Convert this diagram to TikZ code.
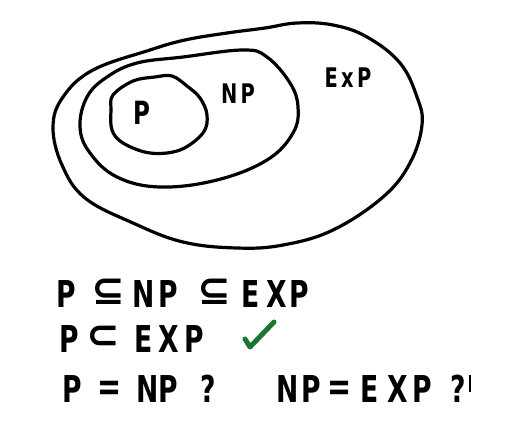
\documentclass[tikz,border=0pt]{standalone}
\usepackage{fontspec}
\setmainfont{DejaVu Sans}
\definecolor{checkgreen}{RGB}{28,118,48}
\newcommand{\sq}[1]{\scalebox{0.72}[1]{#1}}
\begin{document}
\begin{tikzpicture}[x=1pt,y=-1pt,
  blob/.style={line width=3.2pt, line join=round},
  big/.style={font=\fontsize{37}{37}\selectfont\bfseries, inner sep=0pt},
  sym/.style={font=\fontsize{40}{40}\selectfont\bfseries, inner sep=0pt},
  lbl/.style={font=\fontsize{27}{27}\selectfont\bfseries, inner sep=0pt}]
\useasboundingbox (0,0) rectangle (526,425);
% EXP blob
\draw[blob] plot[smooth cycle, tension=0.65] coordinates {
 (53,127) (63,97) (93,70) (150,50) (185,40) (227,33) (265,28) (297,23)
 (333,25) (367,37) (400,63) (417,97) (422,125) (410,163) (383,197)
 (333,230) (283,245) (237,248) (183,242) (133,223) (85,198) (62,165)};
% NP blob
\draw[blob] plot[smooth cycle, tension=0.65] coordinates {
 (80,127) (87,97) (107,77) (137,63) (183,57) (243,50) (267,57) (290,83)
 (298,107) (293,133) (267,160) (217,180) (160,187) (117,177) (90,153)};
% P blob
\draw[blob] plot[smooth cycle, tension=0.6] coordinates {
 (113,95) (133,81) (155,77) (172,76) (187,86) (200,98) (207,115)
 (203,133) (180,150) (150,153) (123,143) (112,130) (111,110)};
% blob labels
\node[lbl, font=\fontsize{32}{32}\selectfont\bfseries] (lp) at (142,113) {\sq{P}};
\node[lbl] (lnp) at (238,94) {\sq{N\,P}};
\node[lbl] (lexp) at (348,78) {\sq{E\,x\,P}};
% line 1
\node[big] (a1) at (66,294) {\sq{P}};
\node[sym] (a2) at (108,292) {⊆};
\node[big] (a3) at (144,294) {\sq{N}};
\node[big] (a4) at (168,294) {\sq{P}};
\node[sym] (a5) at (214,292) {⊆};
\node[big] (a6) at (251,294) {\sq{E}};
\node[big] (a7) at (277,294) {\sq{X}};
\node[big] (a8) at (299,294) {\sq{P}};
% line 2
\node[big] (b1) at (69,339) {\sq{P}};
\node[sym] (b2) at (103,337) {⊂};
\node[big] (b3) at (144,339) {\sq{E}};
\node[big] (b4) at (169,339) {\sq{X}};
\node[big] (b5) at (194,339) {\sq{P}};
\coordinate (c1) at (245,339);
\coordinate (c2) at (250,347);
\coordinate (c3) at (274,322);
\draw[checkgreen, line width=5pt, line cap=round, line join=round] (c1) -- (c2) -- (c3);
% line 3
\node[big] (d1) at (72,389) {\sq{P}};
\node[sym] (d2) at (110,391) {\sq{=}};
\node[big] (d3) at (148,389) {\sq{N}};
\node[big] (d4) at (168,389) {\sq{P}};
\node[big] (d5) at (208,389) {\sq{?}};
\node[big] (e1) at (288,389) {\sq{N}};
\node[big] (e2) at (311,389) {\sq{P}};
\node[sym] (e3) at (340,391) {\sq{=}};
\node[big] (e4) at (370,389) {\sq{E}};
\node[big] (e5) at (398,389) {\sq{X}};
\node[big] (e6) at (422,389) {\sq{P}};
\node[big] (e7) at (458,389) {\sq{?}};
\coordinate (f1) at (470,375);
\coordinate (f2) at (470,392);
\draw[line width=2.5pt] (f1) -- (f2);
\end{tikzpicture}
\end{document}
